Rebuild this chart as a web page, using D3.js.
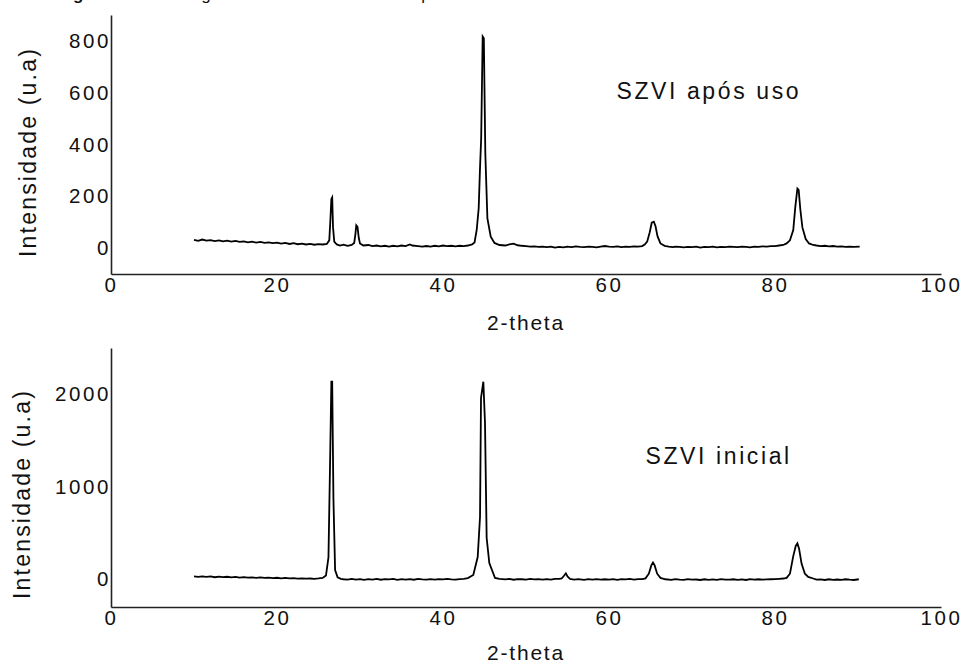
<!DOCTYPE html>
<html>
<head>
<meta charset="utf-8">
<script src="https://cdn.jsdelivr.net/npm/d3@7"></script>
<style>
  html, body { margin: 0; padding: 0; background: #fff; }
  svg { display: block; }
  text { font-family: "Liberation Sans", Arial, sans-serif; fill: #111; }
</style>
</head>
<body>
<svg id="chart" width="966" height="666"></svg>
<script>
// ---- data ----
const xTicks = [0, 20, 40, 60, 80, 100];
const yTicksUsed = [0, 200, 400, 600, 800];
const yTicksInitial = [0, 1000, 2000];

// SZVI após uso : [2-theta, intensity]
const seriesUsed = [
  [10.0,32],[10.5,28],[11.0,33],[11.5,29],[12.0,31],[12.5,27],[13.0,30],[13.5,26],[14.0,29],[14.5,25],
  [15.0,28],[15.5,24],[16.0,26],[16.5,22],[17.0,25],[17.5,21],[18.0,24],[18.5,20],[19.0,22],[19.5,19],
  [20.0,21],[20.5,17],[21.0,20],[21.5,16],[22.0,19],[22.5,15],[23.0,17],[23.5,14],[24.0,16],[24.5,13],
  [25.0,15],[25.5,14],[26.0,16],[26.3,30],[26.45,120],[26.55,190],[26.65,196],[26.75,80],[26.9,25],[27.2,14],
  [27.6,10],[28.0,13],[28.5,9],[29.0,12],[29.3,20],[29.45,55],[29.55,88],[29.7,82],[29.85,40],[30.0,18],
  [30.4,10],[31.0,12],[31.5,8],[32.0,10],[32.5,7],[33.0,9],[33.5,6],[34.0,9],[34.5,7],[35.0,10],
  [35.5,8],[36.0,14],[36.3,10],[37.0,8],[37.5,6],[38.0,8],[38.5,6],[39.0,9],[39.5,7],[40.0,10],
  [40.5,8],[41.0,9],[41.5,7],[42.0,9],[42.5,8],[43.0,10],[43.5,14],[43.8,22],[44.06,70],[44.3,154],
  [44.45,300],[44.6,425],[44.78,817],[44.92,810],[45.1,364],[45.35,115],[45.75,44],[46.2,20],[46.8,12],[47.5,10],
  [48.0,14],[48.5,17],[49.0,11],[49.5,9],[50.0,8],[50.5,6],[51.0,7],[51.5,5],[52.0,6],[52.5,4],
  [53.0,6],[53.5,2],[54.0,5],[54.5,3],[55.0,6],[55.5,4],[56.0,7],[56.5,5],[57.0,4],[57.5,6],
  [58.0,5],[58.5,3],[59.0,6],[59.5,8],[60.0,6],[60.5,5],[61.0,7],[61.5,4],[62.0,6],[62.5,5],
  [63.0,7],[63.5,6],[64.0,8],[64.3,14],[64.6,25],[64.9,60],[65.15,98],[65.4,102],[65.6,85],[65.85,45],
  [66.2,18],[66.7,9],[67.2,6],[67.7,4],[68.0,6],[68.5,5],[69.0,3],[69.5,5],[70.0,4],[70.5,6],
  [71.0,2],[71.5,5],[72.0,4],[72.5,6],[73.0,3],[73.5,5],[74.0,4],[74.5,6],[75.0,5],[75.5,4],
  [76.0,6],[76.5,5],[77.0,3],[77.5,6],[78.0,5],[78.5,7],[79.0,6],[79.5,8],[80.0,8],[80.5,10],
  [81.0,12],[81.4,18],[81.8,30],[82.2,70],[82.45,160],[82.7,230],[82.85,225],[83.05,150],[83.3,80],[83.7,35],
  [84.1,18],[84.6,12],[85.0,10],[85.5,8],[86.0,9],[86.5,7],[87.0,8],[87.5,6],[88.0,7],[88.5,5],
  [89.0,6],[89.5,5],[90.2,6]
];

// SZVI inicial : [2-theta, intensity]
const seriesInitial = [
  [10.0,30],[10.5,25],[11.0,32],[11.5,26],[12.0,30],[12.5,22],[13.0,28],[13.5,24],[14.0,27],[14.5,20],
  [15.0,25],[15.5,18],[16.0,22],[16.5,17],[17.0,21],[17.5,15],[18.0,20],[18.5,14],[19.0,17],[19.5,12],
  [20.0,16],[20.5,10],[21.0,14],[21.5,9],[22.0,12],[22.5,7],[23.0,10],[23.5,6],[24.0,8],[24.5,5],
  [25.0,9],[25.5,14],[25.9,40],[26.2,237],[26.4,1290],[26.55,2136],[26.65,2136],[26.8,864],[27.0,100],[27.3,20],
  [27.7,5],[28.0,0],[28.5,-5],[29.0,3],[29.5,-4],[30.0,2],[30.5,-6],[31.0,1],[31.5,-3],[32.0,4],
  [32.5,-5],[33.0,2],[33.5,-2],[34.0,3],[34.5,-6],[35.0,1],[35.5,-3],[36.0,2],[36.5,-5],[37.0,3],
  [37.5,-1],[38.0,-4],[38.5,2],[39.0,-3],[39.5,1],[40.0,-2],[40.5,3],[41.0,-1],[41.5,-4],[42.0,2],
  [42.5,5],[43.0,12],[43.65,46],[44.18,240],[44.46,673],[44.58,1960],[44.86,2136],[45.06,1690],[45.26,446],[45.58,175],
  [46.27,14],[46.8,4],[47.5,-2],[48.0,3],[48.5,-5],[49.0,2],[49.5,0],[50.0,-4],[50.5,3],[51.0,-2],
  [51.5,1],[52.0,-5],[52.5,2],[53.0,-3],[53.5,4],[54.0,5],[54.3,8],[54.6,40],[54.8,64],[55.0,30],
  [55.3,5],[55.8,-3],[56.3,2],[57.0,-6],[57.5,1],[58.0,-4],[58.5,2],[59.0,-5],[59.5,0],[60.0,-3],
  [60.5,2],[61.0,-6],[61.5,1],[62.0,-2],[62.5,3],[63.0,-4],[63.5,1],[64.0,2],[64.4,10],[64.8,60],
  [65.1,150],[65.3,180],[65.5,150],[65.8,60],[66.2,15],[66.8,0],[67.5,-6],[68.0,2],[68.5,-4],[69.0,-7],
  [69.5,1],[70.0,-5],[70.5,-3],[71.0,-8],[71.5,0],[72.0,-6],[72.5,-2],[73.0,-7],[73.5,1],[74.0,-5],
  [74.5,-3],[75.0,0],[75.5,-6],[76.0,-2],[76.5,-8],[77.0,1],[77.5,-4],[78.0,0],[78.5,-5],[79.0,-2],
  [79.5,0],[80.0,2],[80.5,5],[81.0,8],[81.4,15],[81.8,60],[82.2,250],[82.5,360],[82.7,388],[82.9,330],
  [83.2,170],[83.6,60],[84.0,25],[84.6,8],[85.0,-5],[85.5,-2],[86.0,-8],[86.5,0],[87.0,-6],[87.5,-3],
  [88.0,-7],[88.5,0],[89.0,-5],[89.5,-8],[90.1,0]
];

const labelUsed = "SZVI após uso";
const labelInitial = "SZVI inicial";
const xTitle = "2-theta";
const yTitle = "Intensidade (u.a)";
const captionBold = "Figura 3";
const captionRest = " - Difratograma do SZVI inicial e após uso";

// ---- drawing ----
const svg = d3.select("#chart");

// caption of the page, cut off at the top edge as in the reference
svg.append("text")
  .attr("x", 58).attr("y", 0)
  .style("font-size", "17px")
  .call(t => {
    t.append("tspan").style("font-weight", "bold").text(captionBold);
    t.append("tspan").style("letter-spacing", "1.2px").text(captionRest);
  });

function panel(cfg) {
  const x = d3.scaleLinear().domain([0, 100]).range([111, 941]);
  const y = d3.scaleLinear().domain(cfg.yDomain).range([cfg.bottom, cfg.top]);
  const g = svg.append("g");

  const xAxis = d3.axisBottom(x).tickValues(xTicks).tickSize(0).tickSizeOuter(0).tickPadding(3)
    .tickFormat(d3.format("d"));
  const gx = g.append("g").attr("transform", `translate(0,${cfg.bottom})`).call(xAxis);
  const yAxis = d3.axisLeft(y).tickValues(cfg.yTicks).tickSize(0).tickSizeOuter(0).tickPadding(0)
    .tickFormat(d3.format("d"));
  const gy = g.append("g").attr("transform", `translate(111,0)`).call(yAxis);

  [gx, gy].forEach(a => {
    a.select(".domain").attr("stroke", "#222").attr("stroke-width", 1.6);
    a.selectAll("text")
      .style("font-family", '"Liberation Sans", Arial, sans-serif')
      .style("font-size", "20.5px")
      .style("letter-spacing", "2.6px")
      .attr("fill", "#111");
  });

  const line = d3.line().x(d => x(d[0])).y(d => y(d[1]));
  g.append("path").datum(cfg.series)
    .attr("d", line)
    .attr("fill", "none")
    .attr("stroke", "#000")
    .attr("stroke-width", 1.8)
    .attr("stroke-linejoin", "miter");

  g.append("text")
    .attr("x", x(cfg.labelX)).attr("y", cfg.labelY)
    .style("font-size", "23px").style("letter-spacing", "2.6px")
    .text(cfg.label);

  g.append("text")
    .attr("x", x(50)).attr("y", cfg.xTitleY)
    .attr("text-anchor", "middle")
    .style("font-size", "21px").style("letter-spacing", "1.8px")
    .text(xTitle);

  g.append("text")
    .attr("transform", `translate(${cfg.yTitleX},${cfg.yTitleY}) rotate(-90)`)
    .attr("text-anchor", "middle")
    .style("font-size", "23px").style("letter-spacing", "2.2px")
    .text(yTitle);
}

panel({
  yDomain: [-100, 900], top: 15, bottom: 274,
  yTicks: yTicksUsed, series: seriesUsed,
  label: labelUsed, labelX: 60.9, labelY: 99,
  xTitleY: 330, yTitleX: 36, yTitleY: 152
});

panel({
  yDomain: [-300, 2500], top: 348, bottom: 607,
  yTicks: yTicksInitial, series: seriesInitial,
  label: labelInitial, labelX: 64.4, labelY: 464,
  xTitleY: 660, yTitleX: 30, yTitleY: 494
});
</script>
</body>
</html>
